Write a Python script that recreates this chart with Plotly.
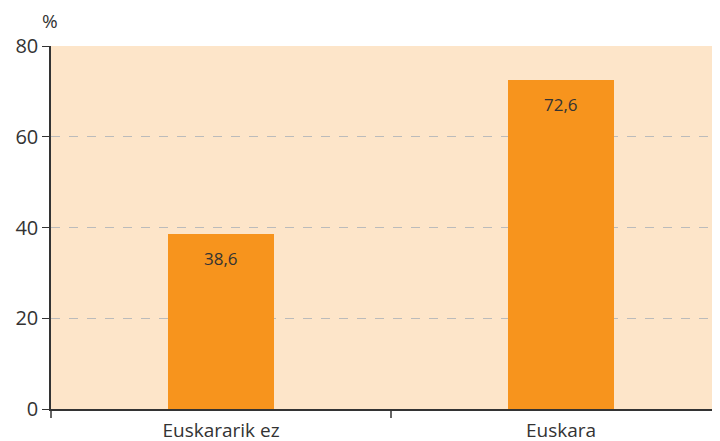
import plotly.graph_objects as go

categories = ["Euskararik ez", "Euskara"]
values = [38.6, 72.6]
labels = ["38,6", "72,6"]
y_ticks = [0, 20, 40, 60, 80]

font_family = "Open Sans, DejaVu Sans, sans-serif"

fig = go.Figure()
fig.add_trace(go.Bar(
    x=categories, y=values, marker_color="#F7941D", width=0.31,
    marker_line_width=0, hoverinfo="skip",
))
for c, v, t in zip(categories, values, labels):
    fig.add_annotation(x=c, y=v, text=t, showarrow=False, yanchor="top",
                       yshift=-11, font=dict(family=font_family, size=17, color="#333333"))

fig.add_annotation(xref="paper", yref="paper", x=0.0, y=1.0, text="%", showarrow=False,
                   xanchor="center", yanchor="bottom", yshift=10, xshift=-1,
                   font=dict(family=font_family, size=19, color="#333333"))

fig.update_layout(
    width=720, height=441,
    margin=dict(l=43, r=0, t=38, b=40, autoexpand=False),
    paper_bgcolor="white", plot_bgcolor="#FDE5C9",
    showlegend=False, bargap=0,
    font=dict(family=font_family, size=19, color="#333333"),
    xaxis=dict(type="category", range=[-0.5, 1.491], tickson="boundaries",
               ticks="outside", ticklen=7, tickcolor="#666666", tickwidth=2,
               showline=True, linecolor="#333333", linewidth=1.5,
               ticklabelstandoff=3,
               tickfont=dict(size=19), showgrid=False, automargin=False),
    yaxis=dict(range=[0, 80], tickvals=y_ticks, ticks="outside", ticklen=7,
               tickcolor="#333333", showline=True, linecolor="#333333", linewidth=1.5,
               showgrid=True, gridcolor="#BBBBBB", griddash="dash", gridwidth=1,
               zeroline=False, tickfont=dict(size=20), automargin=False),
)
fig.write_html("out.html")
